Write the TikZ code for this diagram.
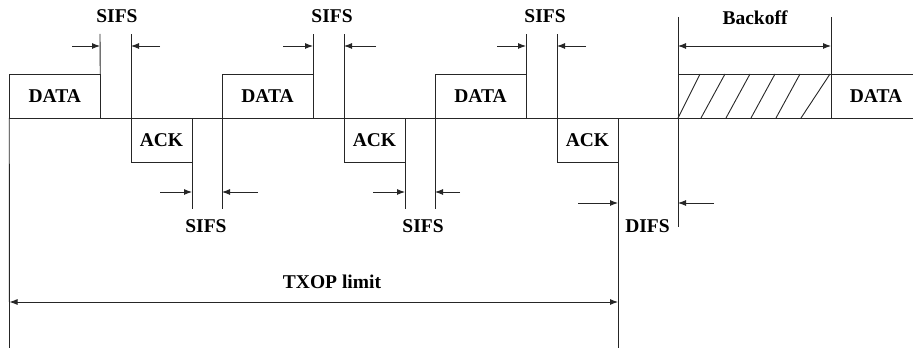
\documentclass[tikz,border=0pt]{standalone}
\usepackage{fontspec}
\setmainfont{Liberation Serif}
\usetikzlibrary{arrows.meta}
\begin{document}
\begin{tikzpicture}[x=1pt,y=-1pt,
  ln/.style={line width=0.9pt,draw=black!85},
  frame/.style={ln, rectangle, inner sep=0pt, outer sep=0pt, minimum height=44pt, font=\fontsize{19.5}{22}\selectfont\bfseries},
  databox/.style={frame, minimum width=91pt},
  ackbox/.style={frame, minimum width=61pt},
  lbl/.style={inner sep=0pt, outer sep=0pt, font=\fontsize{19.5}{22}\selectfont\bfseries},
  arr/.style={ln, -{Latex[length=8pt,width=6pt]}},
  darr/.style={ln, {Latex[length=8pt,width=6pt]}-{Latex[length=8pt,width=6pt]}}
]
\useasboundingbox (0,0) rectangle (913,352);

% timeline
\coordinate (tl0) at (9.5,118);
\coordinate (tl1) at (913,118);
\draw[ln] (tl0) -- (tl1);

% frames
\node[databox] (d1) at (54.75,96) {DATA};
\node[ackbox]  (a1) at (161.5,140) {ACK};
\node[databox] (d2) at (267.5,96) {DATA};
\node[ackbox]  (a2) at (374.5,140) {ACK};
\node[databox] (d3) at (480.5,96) {DATA};
\node[ackbox]  (a3) at (587.5,140) {ACK};
\node[frame, minimum width=153pt] (bo) at (754.5,96) {};
\node[lbl] (d4) at (876,96) {DATA};
\coordinate (d4e) at (913,74);
\draw[ln] (bo.north east) -- (d4e);

% hatching of backoff
\foreach \b/\t in {678/700, 701/725, 726/750, 751/775, 776/800, 801/830}
  \draw[ln] (\b,118) -- (\t,74);

% vertical extension lines
\coordinate (v0) at (9.5,348);
\draw[ln] (d1.south west) -- (v0);
\coordinate (u1) at (100,34);  \draw[ln] (d1.north east) -- (u1);
\coordinate (u2) at (131,34);  \draw[ln] (a1.north west) -- (u2);
\coordinate (w1) at (192,209); \draw[ln] (a1.south east) -- (w1);
\coordinate (w2) at (222,209); \draw[ln] (d2.south west) -- (w2);
\coordinate (u3) at (313,34);  \draw[ln] (d2.north east) -- (u3);
\coordinate (u4) at (344,34);  \draw[ln] (a2.north west) -- (u4);
\coordinate (w3) at (405,209); \draw[ln] (a2.south east) -- (w3);
\coordinate (w4) at (435,209); \draw[ln] (d3.south west) -- (w4);
\coordinate (u5) at (526,34);  \draw[ln] (d3.north east) -- (u5);
\coordinate (u6) at (557,34);  \draw[ln] (a3.north west) -- (u6);
\coordinate (v1) at (618,348); \draw[ln] (a3.south east) -- (v1);
\coordinate (b0) at (678,17);
\coordinate (b1) at (678,227);
\draw[ln] (b0) -- (b1);
\coordinate (b2) at (831,17);
\draw[ln] (bo.north east) -- (b2);

% SIFS top
\coordinate (s1a) at (72,46);  \coordinate (s1b) at (100,46);
\coordinate (s1c) at (160,46); \coordinate (s1d) at (131,46);
\draw[arr] (s1a) -- (s1b); \draw[arr] (s1c) -- (s1d);
\coordinate (s2a) at (283,46); \coordinate (s2b) at (313,46);
\coordinate (s2c) at (376,46); \coordinate (s2d) at (344,46);
\draw[arr] (s2a) -- (s2b); \draw[arr] (s2c) -- (s2d);
\coordinate (s3a) at (497,46); \coordinate (s3b) at (526,46);
\coordinate (s3c) at (586,46); \coordinate (s3d) at (557,46);
\draw[arr] (s3a) -- (s3b); \draw[arr] (s3c) -- (s3d);

% SIFS bottom
\coordinate (s4a) at (160,192); \coordinate (s4b) at (192,192);
\coordinate (s4c) at (258,192); \coordinate (s4d) at (222,192);
\draw[arr] (s4a) -- (s4b); \draw[arr] (s4c) -- (s4d);
\coordinate (s5a) at (373,192); \coordinate (s5b) at (405,192);
\coordinate (s5c) at (460,192); \coordinate (s5d) at (435,192);
\draw[arr] (s5a) -- (s5b); \draw[arr] (s5c) -- (s5d);

% DIFS
\coordinate (f1a) at (578,203); \coordinate (f1b) at (618,203);
\coordinate (f1c) at (714,203); \coordinate (f1d) at (678,203);
\draw[arr] (f1a) -- (f1b); \draw[arr] (f1c) -- (f1d);

% Backoff and TXOP
\coordinate (k0) at (678,46); \coordinate (k1) at (831,46);
\draw[darr] (k0) -- (k1);
\coordinate (x0) at (9.5,302); \coordinate (x1) at (618,302);
\draw[darr] (x0) -- (x1);

% labels
\node[lbl] (l1) at (117,16.5) {SIFS};
\node[lbl] (l2) at (332,16.5) {SIFS};
\node[lbl] (l3) at (545,16.5) {SIFS};
\node[lbl] (l4) at (206,226.3) {SIFS};
\node[lbl] (l5) at (423,226.3) {SIFS};
\node[lbl] (l6) at (647.5,225.8) {DIFS};
\node[lbl] (l7) at (755,18) {Backoff};
\node[lbl] (l8) at (332,282) {TXOP limit};
\end{tikzpicture}
\end{document}
